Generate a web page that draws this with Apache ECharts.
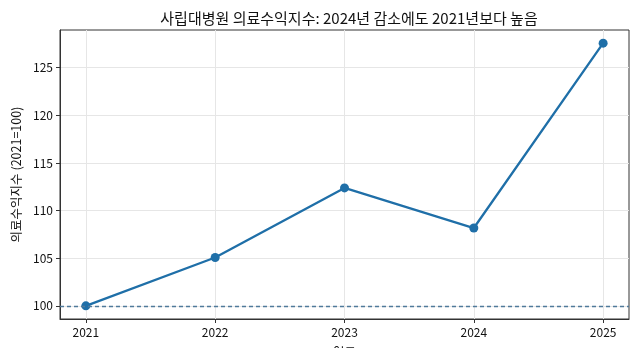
<!DOCTYPE html>
<html><head><meta charset="utf-8">
<script src="https://cdn.jsdelivr.net/npm/echarts@6/dist/echarts.min.js"></script>
<style>html,body{margin:0;padding:0;background:#fff}#c{width:640px;height:348px}</style>
</head><body><div id="c"></div>
<script>
const years = [2021, 2022, 2023, 2024, 2025];
const indexValues = [100, 105.08, 112.38, 108.17, 127.58];
const yTicks = [100, 105, 110, 115, 120, 125];
const baseline = 100;
const titleText = '사립대병원 의료수익지수: 2024년 감소에도 2021년보다 높음';
const xName = '연도';
const yName = '의료수익지수 (2021=100)';

const FONT = '"Noto Sans CJK KR", "Noto Sans", sans-serif';
const chart = echarts.init(document.getElementById('c'), null, {renderer: 'canvas'});
chart.setOption({
  animation: false,
  backgroundColor: '#fff',
  title: {text: titleText, left: 344, textAlign: 'center', top: 6,
    textStyle: {fontFamily: FONT, fontSize: 15, fontWeight: 'normal', color: '#111'}},
  grid: {left: 60, right: 11, top: 30, bottom: 29, outerBoundsMode: 'none', containLabel: false,
    show: true, borderColor: '#333', borderWidth: 1, backgroundColor: 'transparent'},
  xAxis: {type: 'value', min: 2020.8, max: 2025.2,
    name: xName, nameLocation: 'middle', nameGap: 27,
    nameTextStyle: {fontFamily: FONT, fontSize: 12.5, color: '#111'},
    axisLine: {show: true, lineStyle: {color: '#333', width: 1}},
    axisTick: {show: true, length: 4, customValues: years, lineStyle: {color: '#333'}},
    axisLabel: {customValues: years, fontFamily: FONT, fontSize: 12, color: '#111', margin: 7, formatter: v => String(v)},
    splitLine: {show: true, customValues: years, lineStyle: {color: '#e6e6e6', width: 1}}
  },
  yAxis: {type: 'value', min: 98.62, max: 128.96,
    name: yName, nameLocation: 'middle', nameGap: 36, nameRotate: 90,
    nameTextStyle: {fontFamily: FONT, fontSize: 12.5, color: '#111'},
    axisLine: {show: true, lineStyle: {color: '#333', width: 1}},
    axisTick: {show: true, length: 4, customValues: yTicks, lineStyle: {color: '#333'}},
    axisLabel: {customValues: yTicks, fontFamily: FONT, fontSize: 12, color: '#111', margin: 7},
    splitLine: {show: true, customValues: yTicks, lineStyle: {color: '#e6e6e6', width: 1}}
  },
  series: [{
    type: 'line', data: years.map((y, i) => [y, indexValues[i]]),
    symbol: 'circle', symbolSize: 9,
    lineStyle: {color: '#1f6fa8', width: 2.3},
    itemStyle: {color: '#1f6fa8'},
    markLine: {silent: true, symbol: 'none', label: {show: false},
      lineStyle: {color: '#4f7a9a', type: [4, 3], width: 1.3},
      data: [{yAxis: baseline}]}
  }]
});
</script></body></html>
